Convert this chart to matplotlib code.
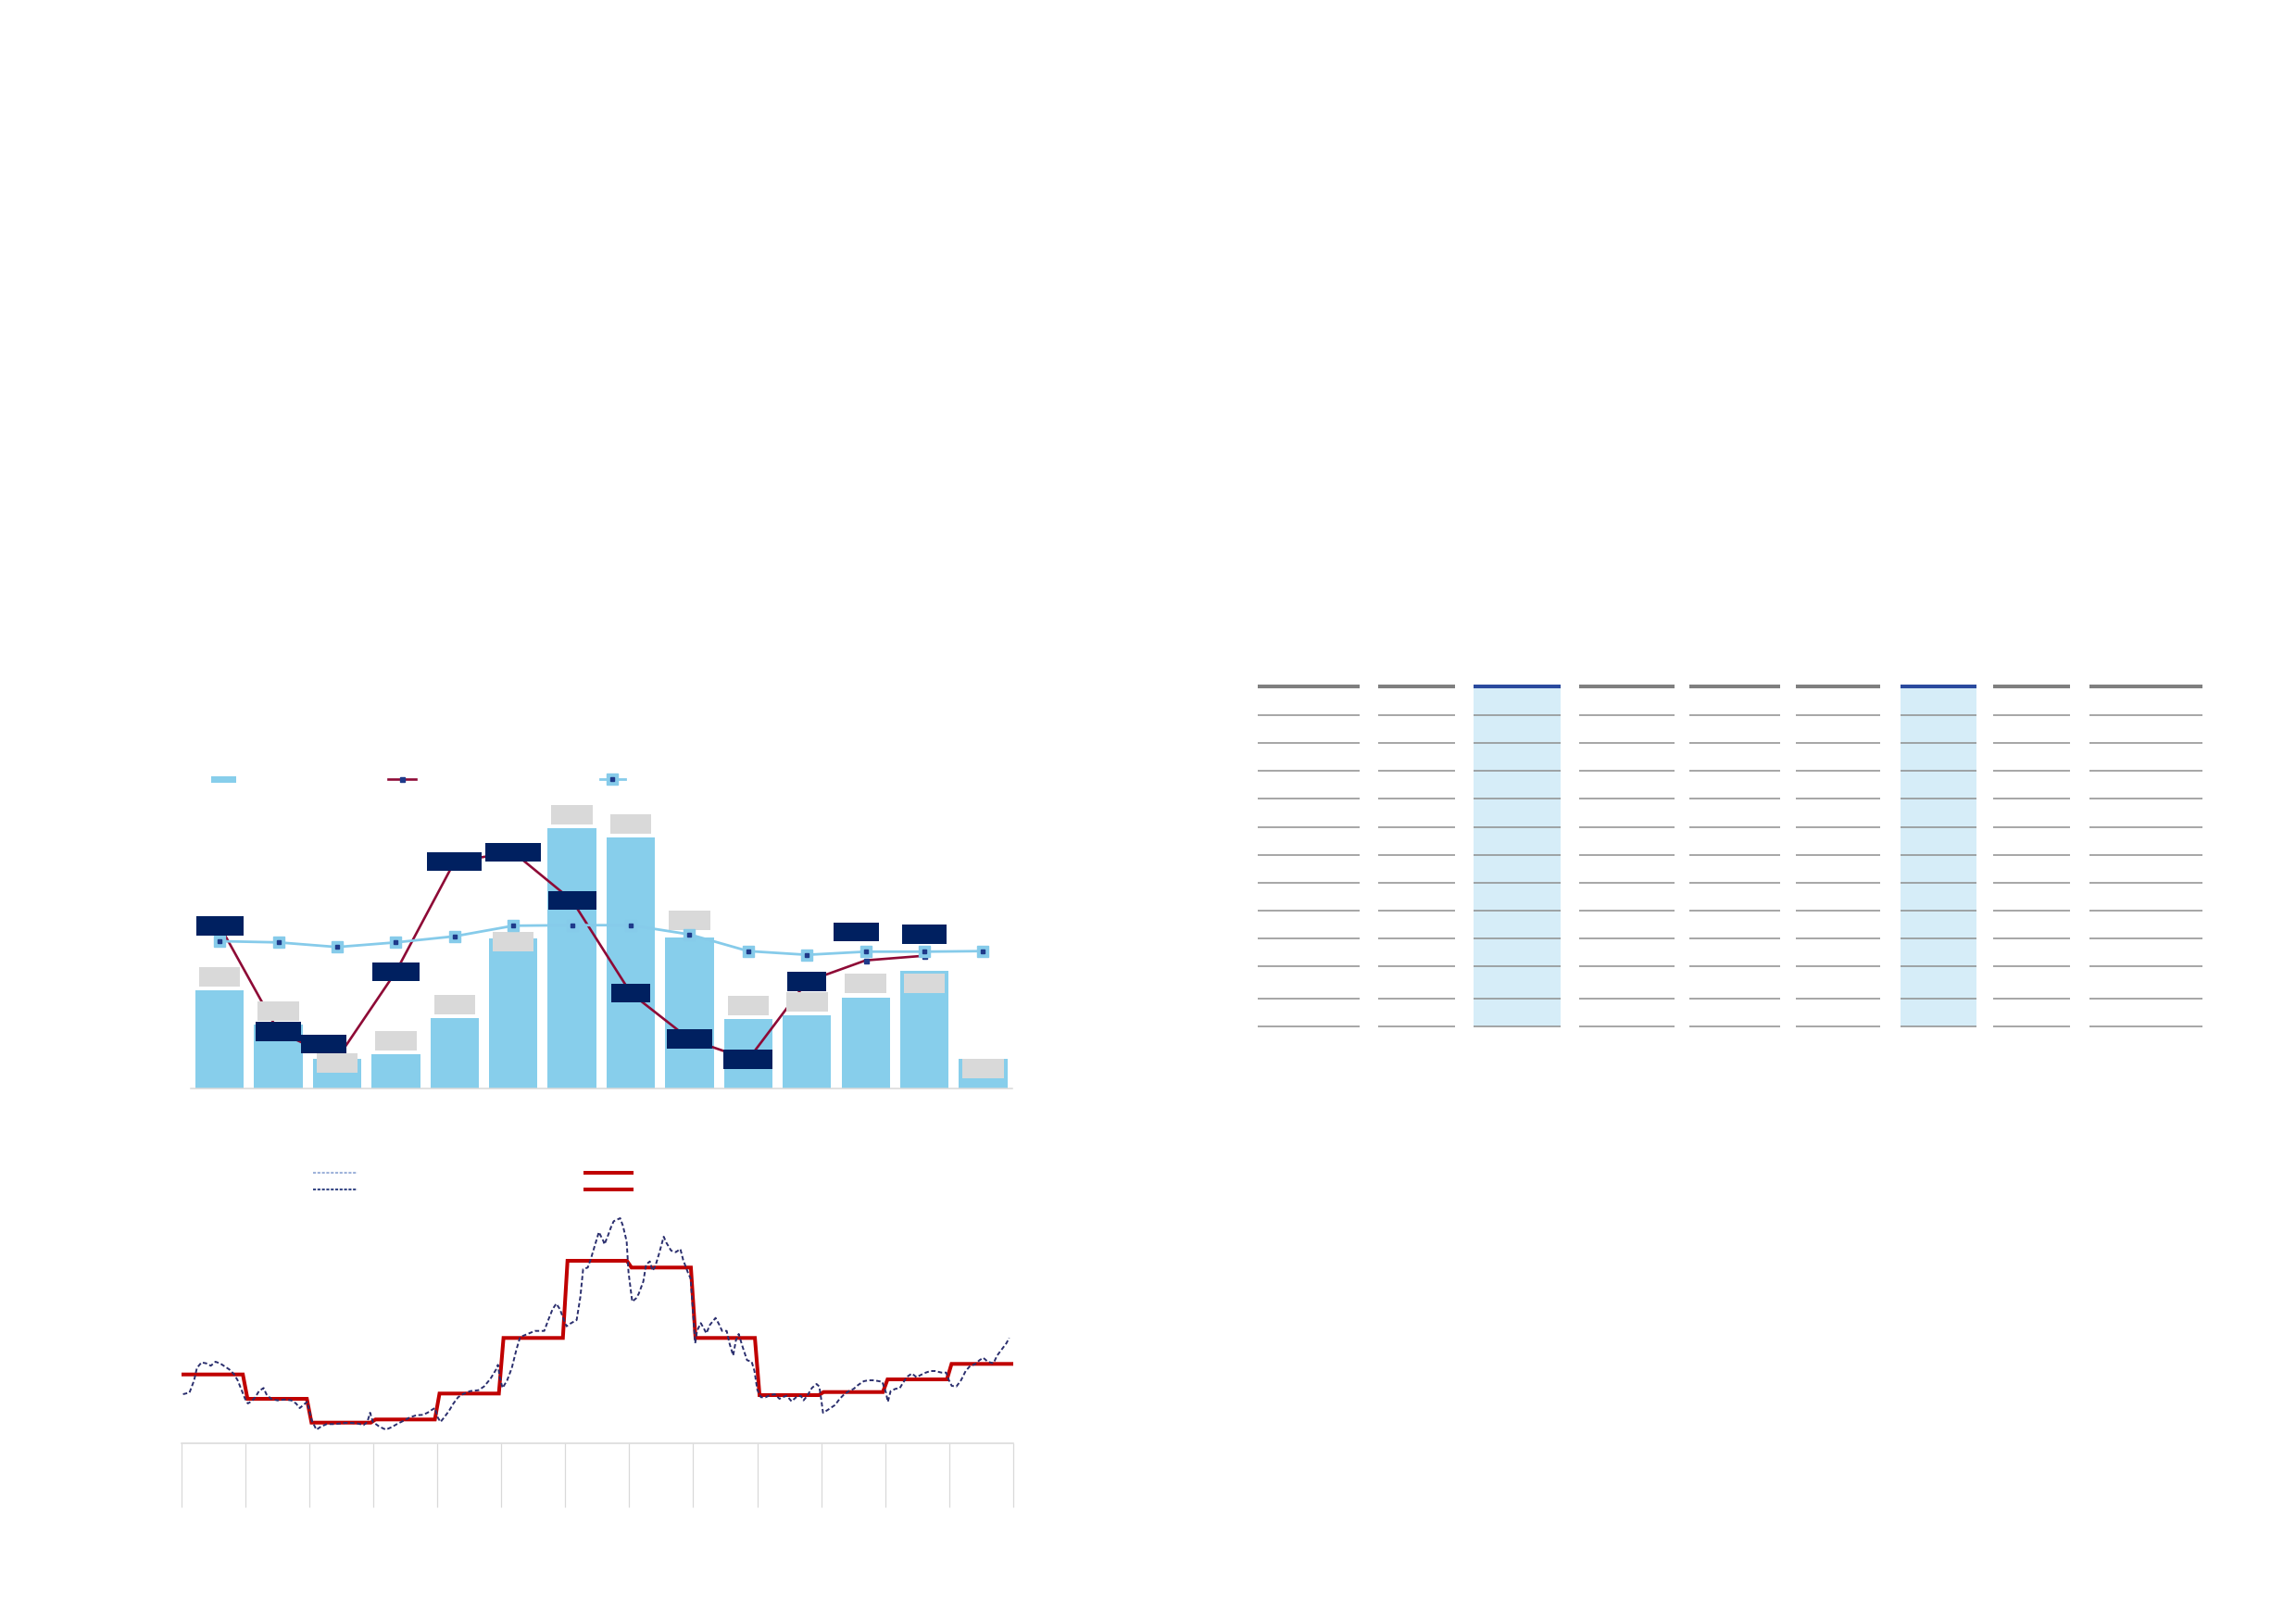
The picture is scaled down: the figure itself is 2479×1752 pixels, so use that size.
import matplotlib
matplotlib.use("Agg")
import matplotlib.pyplot as plt
import numpy as np
from matplotlib.patches import Rectangle, Patch
from matplotlib.lines import Line2D
from matplotlib.legend_handler import HandlerTuple

# ---------------- data ----------------
months = list(range(14))
bar_values = [105.7, 69, 31.7, 36.7, 76, 161.7, 280.7, 271, 162.7, 75, 79, 98.3, 127.3, 31.7]
growth_values = [175.7, 61.3, 32.3, 126, 245, 255, 203, 103, 53.3, 31.3, 115.5, 138.3, 143.3, np.nan]
avg_values = [159, 157.7, 152.7, 157.7, 164.3, 175.7, 176.3, 176.3, 166.3, 148.3, 144.3, 147.7, 147.7, 148.3]

daily_x = [2, 9, 14, 17, 22, 27, 32, 37, 42, 47, 52, 57, 61, 65, 69, 72, 76, 80, 84, 89,
           92, 97, 104, 112, 119, 124, 128, 132, 136, 141, 146, 151, 157, 164, 171, 177, 184, 191, 197, 201,
           204, 207, 214, 221, 227, 234, 241, 247, 254, 261, 266, 271, 274, 277, 280, 284, 289, 294, 299, 304,
           312, 321, 327, 334, 341, 342, 344, 347, 352, 357, 362, 366, 374, 382, 392, 397, 401, 405, 409, 412,
           416, 421, 427, 431, 434, 439, 442, 447, 451, 456, 457, 461, 464, 467, 474, 477, 481, 483, 487, 491,
           494, 499, 502, 506, 509, 512, 516, 521, 524, 529, 534, 539, 542, 547, 550, 552, 555, 557, 561, 564,
           567, 571, 577, 581, 584, 589, 592, 596, 599, 602,
           606, 611, 616, 619, 622, 626, 631, 636, 641, 646, 649, 654, 659, 664, 669, 672, 676, 681, 686, 689,
           691, 693, 697, 701, 706, 711, 716, 721, 726, 731, 737, 742, 747, 752, 757, 761, 763, 766, 771, 776,
           779, 784, 789, 794, 799, 804, 809, 814, 821, 826, 829, 832, 837, 842, 847, 852, 857, 862, 866, 871,
           877, 881, 886, 891, 894]
daily_y = [53, 54.7, 68, 81.3, 87.3, 86.3, 83.7, 88, 86.3, 83, 79.7, 74.7, 68, 58, 48, 43, 45.3, 49.7, 56.3, 59.7,
           53, 48, 46.3, 47.3, 46.3, 43, 38, 41.3, 44.7, 24.7, 14.7, 18, 20.7, 20.7, 21.3, 22, 22, 21.3, 19.7, 23,
           33, 23, 18, 14.7, 17.3, 21.3, 24.7, 28, 30.3, 30.7, 33, 36.3, 38, 28, 23, 28, 34.7, 43, 49.7, 53,
           56.3, 57.3, 61.3, 69.7, 81.3, 84.7, 71.3, 59.7, 68, 81.3, 101.3, 114.7, 118, 121.3, 121.3, 134.7, 144.7, 150.7, 144.7, 136.3,
           126.3, 129.7, 133, 158, 188, 189.7, 198, 214.7, 228, 218, 214.7, 224.7, 233, 239.7, 243, 234.7, 218, 184.7, 153, 156.3,
           161.3, 174.7, 193, 196.3, 186.3, 191.3, 204.7, 223, 216.3, 208, 206.3, 209.7, 198, 184.7, 178, 151.3, 108, 121.3, 129.7, 124.7,
           118.7, 128, 135.3, 128, 121.3, 121.3, 108, 94.7, 111.3, 118,
           104.7, 89.7, 88, 78, 58, 49.7, 49.7, 52, 53, 48, 49.7, 51.3, 45.3, 49.7, 51.3, 46.3, 51.3, 59.7, 64, 61.3,
           48, 33, 35.3, 38, 41.3, 48, 53, 56.3, 58.7, 63, 67, 68, 68, 67.3, 66.3, 54.7, 44.7, 56.3, 58.7, 59.7,
           64.7, 72, 75.3, 71.3, 74, 76.3, 78, 78, 76.3, 76.3, 68, 62, 61.3, 68, 78, 83.7, 85.3, 89.7, 92.3, 88,
           86.3, 94.7, 101.3, 108, 113.7]
step_levels = [74.3, 48, 22.3, 25.7, 53.7, 113.7, 197, 189.7, 113.7, 52, 55.3, 69, 85.7]
period_days = 898.4

n_table_rows = 12
n_table_cols = 9
highlight_cols = [2, 6]

# ---------------- layout / style ----------------
W, H = 2479, 1752
BAR = "#87CEEB"
LBLUE = "#86CBEA"
GRAY = "#D9D9D9"
NAVY = "#002060"
NAVY_MK = "#1F3A8A"
RED = "#8E0A36"
STEP_RED = "#C00000"
DASH_NAVY = "#2B2F6E"
SHADE = "#D6EDF8"

gray_dy = [14.5, 14.5, -4, 14.5, 14.5, -3.5, 14.5, 14.5, 18.5, 14.5, 14.5, 15, -14, -10]
navy_w = [51, 49, 49, 51.7, 59, 60, 52, 41.5, 49, 53, 41.7, 49, 48.3, 0]
navy_dx = [0, 0, -14.2, 0, 0, 0, 0, 0, 0, 0, 0, -10.5, 0, 0]
navy_dy = [0, 0, 15.7, 0, 0, 0, 0, 0, 0, 0, 0, 30.7, 23.4, 0]
step_ramp = 2.5   # half-width of the sloped transition between monthly levels

fig = plt.figure(figsize=(W / 100, H / 100), dpi=100)
fig.patch.set_facecolor("white")


def fbox(left, top, right, bottom):
    return [left / W, 1 - bottom / H, (right - left) / W, (bottom - top) / H]


# ---------------- upper combo chart ----------------
ax1_left, ax1_right = 205.5, 1093.2
ax1 = fig.add_axes(fbox(ax1_left, 845, ax1_right, 1175))
ax1.set_xlim(-0.5, 13.5)
ax1.set_ylim(0, 330)
px_per_x = (ax1_right - ax1_left) / 14.0
ax1.bar(months, bar_values, width=52.3 / px_per_x, color=BAR, zorder=2)
ax1.plot(months, growth_values, color=RED, lw=1.9, marker="s", ms=3.6,
         mfc=NAVY_MK, mec=NAVY_MK, zorder=3)
ax1.plot(months, avg_values, color=LBLUE, lw=2.0, marker="s", ms=8,
         mfc=LBLUE, mec=LBLUE, zorder=5)
ax1.plot(months, avg_values, ls="none", marker="s", ms=3.4,
         mfc=NAVY_MK, mec=NAVY_MK, zorder=5.1)

gw, gh = 44.5 / px_per_x, 20.7
for i, v in enumerate(bar_values):
    cy = v + gray_dy[i]
    ax1.add_patch(Rectangle((i - gw / 2, cy - gh / 2), gw, gh, fc=GRAY, ec="none",
                            zorder=4, clip_on=False))
for i, v in enumerate(growth_values):
    if np.isnan(v):
        continue
    w = navy_w[i] / px_per_x
    cx = i + navy_dx[i] / px_per_x
    cy = v + navy_dy[i]
    ax1.add_patch(Rectangle((cx - w / 2, cy - 10.25), w, 20.5, fc=NAVY, ec="none",
                            zorder=6, clip_on=False))

for s in ["top", "right", "left"]:
    ax1.spines[s].set_visible(False)
ax1.spines["bottom"].set_color(GRAY)
ax1.spines["bottom"].set_linewidth(1.1)
ax1.set_xticks([])
ax1.set_yticks([])
ax1.patch.set_alpha(0)


def key(handle, x_px, y_px, length_px, fontsize=9, hh=0.7):
    fs_px = fontsize * 100 / 72
    leg = fig.legend([handle], [""], loc="center left",
                     bbox_to_anchor=(x_px / W, 1 - y_px / H),
                     frameon=False, borderpad=0, borderaxespad=0, handletextpad=0,
                     handlelength=length_px / fs_px, handleheight=hh, fontsize=fontsize,
                     handler_map={tuple: HandlerTuple(ndivide=1, pad=0)})
    return leg


key(Patch(facecolor=BAR, edgecolor="none"), 228.3, 842.5, 26.3, hh=6.3 / 12.5)
key(Line2D([], [], color=RED, lw=1.9, marker="s", ms=3.6, mfc=NAVY_MK, mec=NAVY_MK), 419.2, 842.3, 29.5)
key((Line2D([], [], color=LBLUE, lw=2.0, marker="s", ms=8, mfc=LBLUE, mec=LBLUE),
     Line2D([], [], ls="none", marker="s", ms=3.4, mfc=NAVY_MK, mec=NAVY_MK)), 647.8, 842.3, 27)

# ---------------- lower line chart ----------------
ax2 = fig.add_axes(fbox(195.6, 1300, 1094, 1558))
ax2.set_xlim(0, period_days)
ax2.set_ylim(0, 258)
edges = np.linspace(0, period_days, len(step_levels) + 1)
sx, sy = [], []
for k, lvl in enumerate(step_levels):
    x0 = edges[k] + (step_ramp if k > 0 else 0)
    x1 = edges[k + 1] - (step_ramp if k < len(step_levels) - 1 else 0)
    sx += [x0, x1]
    sy += [lvl, lvl]
ax2.plot(sx, sy, color=STEP_RED, lw=2.9, solid_joinstyle="miter",
         solid_capstyle="butt", zorder=3)
ax2.plot(daily_x, daily_y, color=DASH_NAVY, lw=1.4, ls=(0, (2.4, 1.4)), zorder=4)
for s in ["top", "right", "left"]:
    ax2.spines[s].set_visible(False)
ax2.spines["bottom"].set_color(GRAY)
ax2.spines["bottom"].set_linewidth(1.1)
ax2.set_xticks(edges)
ax2.tick_params(axis="x", direction="out", length=69 * 0.72, width=0.9, color=GRAY,
                labelbottom=False)
ax2.set_yticks([])
ax2.patch.set_alpha(0)

key(Line2D([], [], color="#9FB3DA", lw=1.5, ls=(0, (1.5, 0.8))), 337.8, 1266.7, 48.2)
key(Line2D([], [], color="#3A4A86", lw=1.5, ls=(0, (1.5, 0.8))), 337.8, 1285, 48.2)
key(Line2D([], [], color=STEP_RED, lw=2.9), 632, 1266.7, 50)
key(Line2D([], [], color=STEP_RED, lw=2.9), 632, 1285, 50)

# ---------------- table (lines only) ----------------
col_spans = [(1358, 1468), (1488, 1571), (1591, 1685), (1705, 1808), (1824, 1922),
             (1939, 2030), (2052, 2134), (2152, 2235), (2256, 2378)]
top_rule = 741
row_lines = [771.7, 801.7, 832, 862.3, 892.7, 922.7, 952.7, 983, 1013.3, 1043.3, 1077.7, 1107.7][:n_table_rows]

ax3 = fig.add_axes([0, 0, 1, 1], zorder=-1)
ax3.set_xlim(0, W)
ax3.set_ylim(H, 0)
ax3.axis("off")
for j, (l, r) in enumerate(col_spans[:n_table_cols]):
    if j in highlight_cols:
        ax3.add_patch(Rectangle((l, top_rule), r - l, row_lines[-1] - top_rule,
                                fc=SHADE, ec="none", zorder=1))
        ax3.hlines(top_rule, l, r, color="#2A4A9E", lw=2.9, zorder=3)
    else:
        ax3.hlines(top_rule, l, r, color="#7F7F7F", lw=2.9, zorder=3)
    ax3.hlines(row_lines, l, r, color="#8E8E8E", lw=1.1, zorder=2)

fig.savefig("out.png", dpi=100, facecolor="white")
